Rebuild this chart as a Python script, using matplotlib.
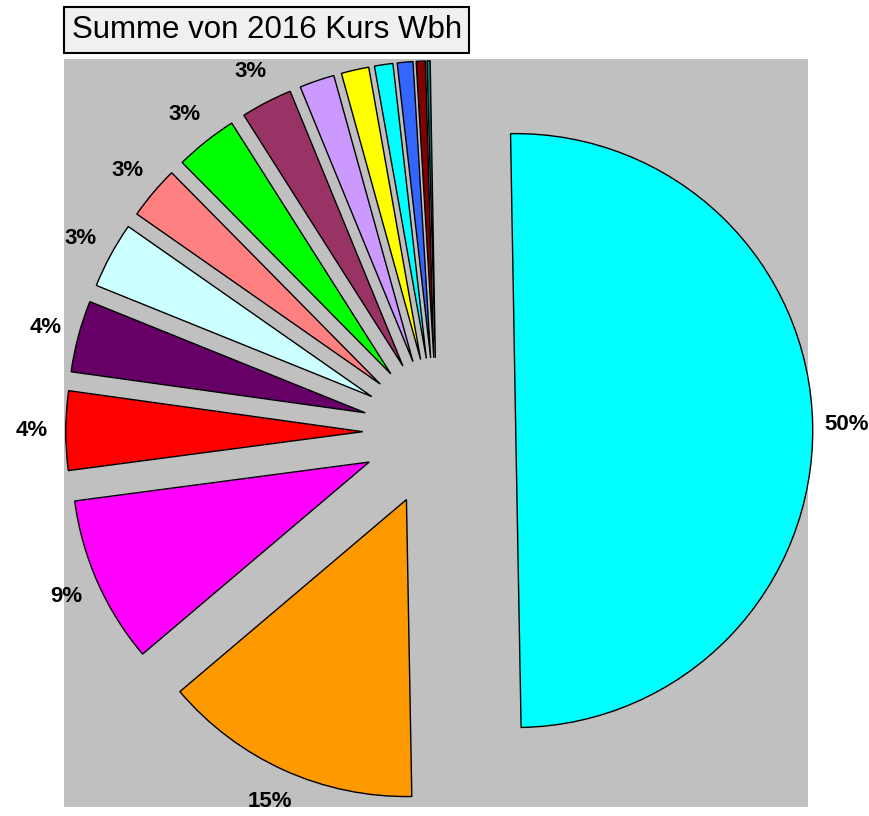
import math
import matplotlib
matplotlib.use("Agg")
import matplotlib.pyplot as plt
from matplotlib.patches import Rectangle

plt.rcParams['font.family'] = ['Liberation Sans', 'DejaVu Sans']

# Anteile der Kurse (in %)
shares = [50.0, 14.1, 9.1, 4.3, 3.9, 3.6, 2.9, 3.4, 2.8, 1.9, 1.5, 1.0, 0.85, 0.5, 0.17]
shown = ['50%', '15%', '9%', '4%', '4%', '3%', '3%', '3%', '3%', '', '', '', '', '', '']
colors = ['#00FFFF', '#FF9900', '#FF00FF', '#FF0000', '#660066', '#CCFFFF', '#FF8080',
          '#00FF00', '#993366', '#CC99FF', '#FFFF00', '#00FFFF', '#3366FF', '#800000', '#008080']
title = "Summe von 2016 Kurs Wbh"

W, H = 870, 816
fig = plt.figure(figsize=(W / 100, H / 100), dpi=100)
fig.patch.set_facecolor('white')

# grauer Plotbereich
ax = fig.add_axes([64 / W, 1 - 807 / H, 744 / W, 748 / H])

explode = [0.265] + [0.25] * (len(shares) - 1)
wedges, texts = ax.pie(shares, colors=colors, explode=explode, startangle=91.0,
                       counterclock=False, radius=1.0,
                       wedgeprops=dict(edgecolor='black', linewidth=1.0))

# Beschriftungen wie im Original (nur groessere Stuecke)
for w, lab in zip(wedges, shown):
    if not lab:
        continue
    ang = math.radians((w.theta1 + w.theta2) / 2)
    cx, cy = w.center
    ax.text(cx + 1.115 * math.cos(ang), cy + 1.115 * math.sin(ang), lab,
            ha='center', va='center', fontsize=16, fontweight='bold', color='black',
            clip_on=False)

ax.set_frame_on(True)
for s in ax.spines.values():
    s.set_visible(False)
ax.set_facecolor('#C0C0C0')
ax.set_aspect('auto')
ax.set_xlim(-1.256, 1.249)
ax.set_ylim(-1.263, 1.256)
ax.set_xticks([])
ax.set_yticks([])

# Titel mit Rahmen
fig.patches.append(Rectangle((64 / W, 1 - 53 / H), 405 / W, 46 / H, transform=fig.transFigure,
                             facecolor='#F0F0F0', edgecolor='black', linewidth=1.5))
fig.text(267 / W, 1 - 38 / H, title, ha='center', va='baseline', fontsize=22.5, color='black')

fig.savefig("out.png", dpi=100)
